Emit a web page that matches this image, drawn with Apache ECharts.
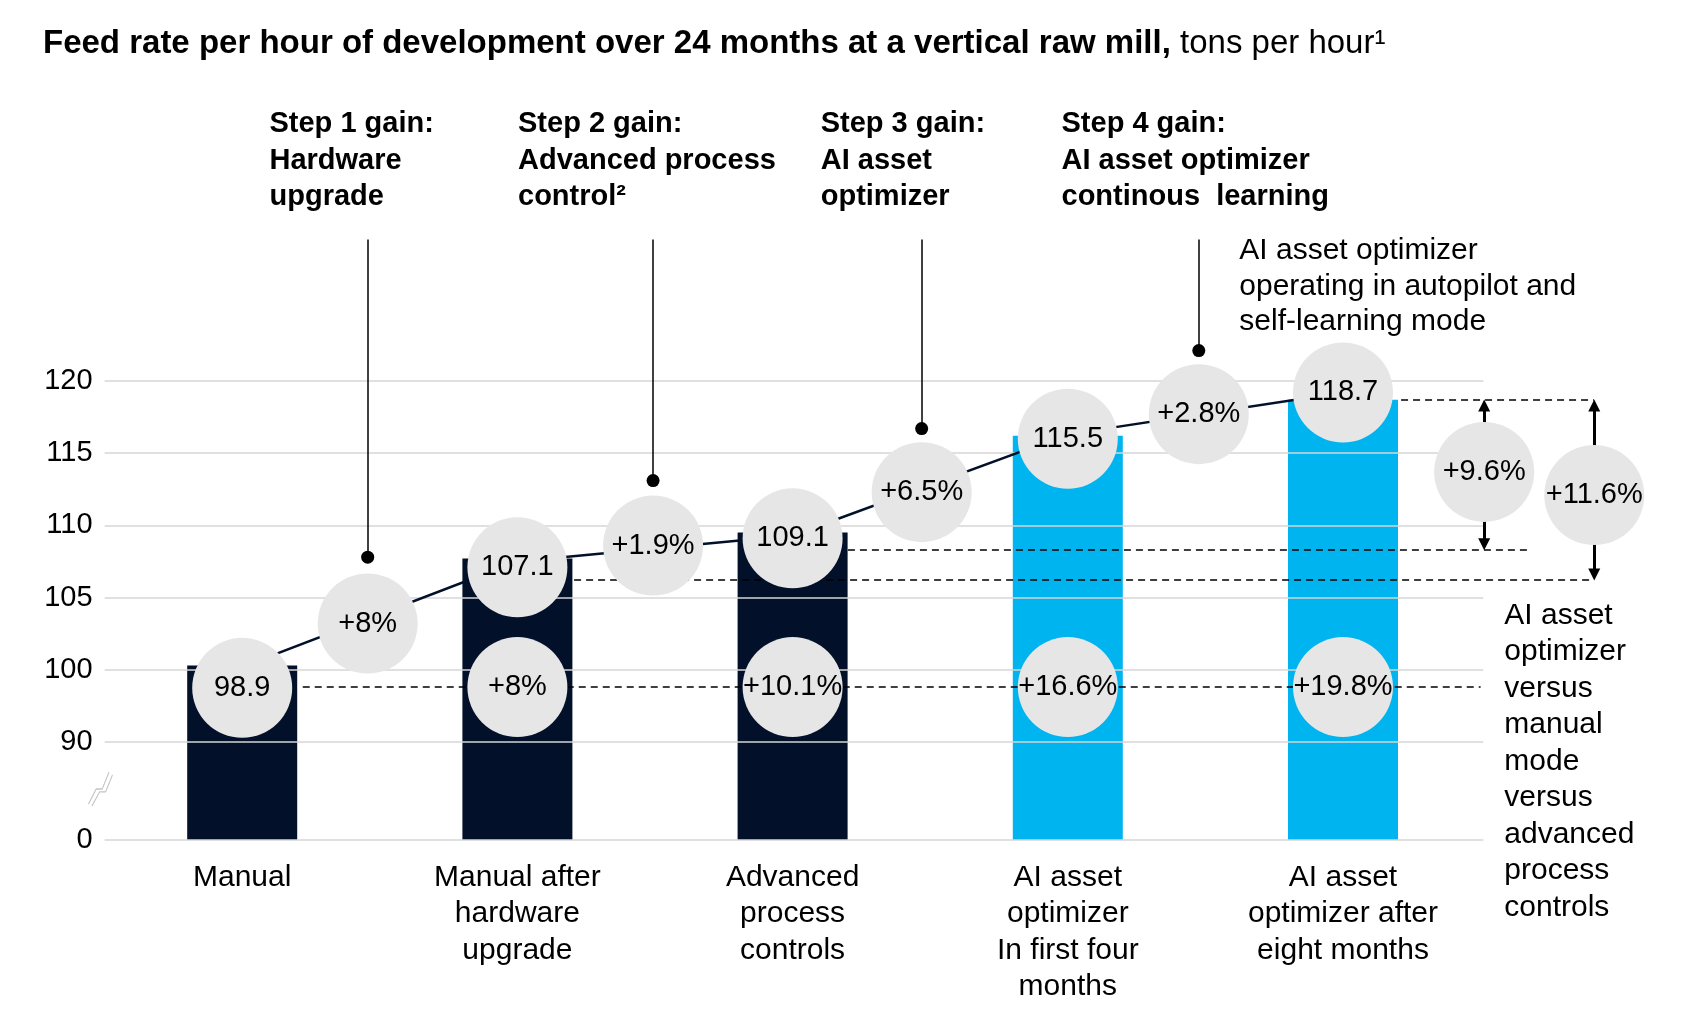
<!DOCTYPE html>
<html>
<head>
<meta charset="utf-8">
<script src="https://cdn.jsdelivr.net/npm/echarts@6/dist/echarts.min.js"></script>
<style>html,body{margin:0;padding:0;background:#fff}#c{width:1708px;height:1020px}</style>
</head>
<body>
<div id="c"></div>
<script>
// ================= DATA =================
const categories = [
  'Manual',
  'Manual after\nhardware\nupgrade',
  'Advanced\nprocess\ncontrols',
  'AI asset\noptimizer\nIn first four\nmonths',
  'AI asset\noptimizer after\neight months'
];
// printed feed rates (tons per hour)
const feedRateLabels = ['98.9', '107.1', '109.1', '115.5', '118.7'];
// bar heights as drawn in the picture (tons per hour, broken axis)
const barHeights = [100.3, 107.7, 109.5, 116.2, 118.7];
// connecting line levels at each bar
const lineLevels = [100.2, 107.5, 109.3, 116.3, 119.2];
// level of the feed-rate bubbles
const feedRateBubbleLevels = [97.5, 107.1, 109.1, 116.0, 119.2];

// step gains
const stepTitles = [
  'Step 1 gain:\nHardware\nupgrade',
  'Step 2 gain:\nAdvanced process\ncontrol\u00b2',
  'Step 3 gain:\nAI asset\noptimizer',
  'Step 4 gain:\nAI asset optimizer\ncontinous  learning'
];
const stepGainLabels = ['+8%', '+1.9%', '+6.5%', '+2.8%'];
const stepGainX = [0.456, 1.493, 2.469, 3.476];
const stepGainLevels = [103.2, 108.6, 112.3, 117.7];
const stepDotLevels = [107.8, 113.1, 116.7, 122.1];

// cumulative gain versus manual (inside bars 2..5)
const cumulativeGainLabels = ['+8%', '+10.1%', '+16.6%', '+19.8%'];
const cumulativeGainX = [1, 2, 3, 4];
const cumulativeLevel = 97.6;

// side gains
const sideGainLabels = ['+9.6%', '+11.6%'];
const sideGainX = [4.513, 4.913];
const sideGainLevels = [113.7, 112.1];

// dashed reference levels
const referenceLevels = [97.6, 106.2, 108.3, 118.7];

// y-axis tick labels
const yTickValues = [0, 90, 100, 105, 110, 115, 120];

// notes
const noteTop = 'AI asset optimizer\noperating in autopilot and\nself-learning mode';
const noteRight = 'AI asset\noptimizer\nversus\nmanual\nmode\nversus\nadvanced\nprocess\ncontrols';

// ================= LAYOUT / STYLE =================
const PX_PER_UNIT = 14.443;
const BREAK_D = 98 / PX_PER_UNIT;      // display height of 0..90
function disp(v) {                      // broken-axis transform
  if (v <= 90) return v * BREAK_D / 90;
  if (v <= 100) return BREAK_D + (v - 90) / 2;
  return BREAK_D + 5 + (v - 100);
}
const NAVY = '#021029', CYAN = '#00b4ef', BUBBLE = '#e6e6e6', INK = '#000000', GRIDC = '#d6d6d6';
const FONT = '"Liberation Sans", Arial, Helvetica, sans-serif';
const BAR_SLOT = 275.2, X0 = 242.2;
const X_MIN = -0.5, X_MAX = 5.3;
const gridLeft = X0 + X_MIN * BAR_SLOT;
const gridRight = 1708 - (X0 + X_MAX * BAR_SLOT);
const GRID_X_END = 4.51;
const STEP_LINE_TOP = 129.8;
const STEP_TITLE_X = [0.101, 1.004, 2.104, 2.979];
const STEP_TITLE_TOP = 139.0;
const NOTE_TOP_POS = [3.625, 130.2];
const NOTE_RIGHT_POS = [4.588, 105.0];
// dashed segments (x from, x to) for each reference level
const REF_SPANS = [[0.22, 4.50], [1.206, 4.912], [2.201, 4.672], [4.211, 4.912]];
const BREAK_POS = [-0.515, 46.8];

function bubbleSeries(name, xs, levels, labels) {
  return {
    type: 'scatter', name, z: 10, silent: true, animation: false, clip: false,
    symbol: 'circle', symbolSize: 100,
    itemStyle: { color: BUBBLE, opacity: 1 },
    label: { show: true, position: 'inside', formatter: p => labels[p.dataIndex],
             color: INK, fontSize: 29, fontFamily: FONT },
    data: xs.map((x, i) => [x, disp(Array.isArray(levels) ? levels[i] : levels)])
  };
}
function textSeries(name, points, texts, style) {
  return {
    type: 'scatter', name, z: 20, silent: true, animation: false, clip: false,
    symbolSize: 1, itemStyle: { color: 'rgba(0,0,0,0)', opacity: 1 },
    label: Object.assign({ show: true, position: [0, 0], align: 'left', verticalAlign: 'top',
             formatter: p => texts[p.dataIndex], color: INK, opacity: 1, fontFamily: FONT }, style),
    data: points
  };
}

const option = {
  animation: false,
  backgroundColor: '#fff',
  title: {
    left: 38, top: 22,
    text: '{b|Feed rate per hour of development over 24 months at a vertical raw mill,}{r| tons per hour\u00b9}',
    textStyle: { fontWeight: 'normal', rich: {
      b: { fontWeight: 'bold', fontSize: 33, fontFamily: FONT, color: '#000' },
      r: { fontWeight: 'normal', fontSize: 33, fontFamily: FONT, color: '#000' }
    } }
  },
  grid: { left: gridLeft, right: gridRight, top: 0, bottom: 180, containLabel: false, outerBoundsMode: 'none' },
  xAxis: {
    type: 'value', min: X_MIN, max: X_MAX,
    axisLine: { show: false }, axisTick: { show: false }, splitLine: { show: false },
    axisLabel: { customValues: categories.map((c, i) => i), formatter: v => categories[Math.round(v)] || '',
                 fontSize: 30, lineHeight: 36.5, color: INK, fontFamily: FONT, margin: 19, align: 'center' }
  },
  yAxis: {
    type: 'value', min: 0, max: 840 / PX_PER_UNIT,
    axisLine: { show: false }, axisTick: { show: false }, splitLine: { show: false },
    axisLabel: {
      customValues: yTickValues.map(disp),
      formatter: v => { const k = yTickValues.findIndex(t => Math.abs(disp(t) - v) < 0.01); return k < 0 ? '' : String(yTickValues[k]); },
      fontSize: 29, color: INK, fontFamily: FONT, margin: 12
    }
  },
  series: [
    // grid lines
    { type: 'line', name: 'grid', z: 1, data: [], silent: true,
      markLine: { silent: true, animation: false, symbol: ['none', 'none'], label: { show: false },
        lineStyle: { color: GRIDC, width: 1.5, type: 'solid' },
        data: yTickValues.map(t => [{ coord: [X_MIN, disp(t)] }, { coord: [GRID_X_END, disp(t)] }]) } },
    // bars
    { type: 'bar', name: 'feed rate', z: 2, barWidth: 110, silent: true,
      data: barHeights.map((v, i) => ({ value: [i, disp(v)], itemStyle: { color: i < 3 ? NAVY : CYAN } })) },
    // dashed reference lines
    { type: 'line', name: 'refs', z: 4, data: [], silent: true,
      markLine: { silent: true, animation: false, symbol: ['none', 'none'], label: { show: false },
        lineStyle: { color: '#000', width: 1.5, type: [7, 5] },
        data: referenceLevels.map((lv, k) => [{ coord: [REF_SPANS[k][0], disp(lv)] }, { coord: [REF_SPANS[k][1], disp(lv)] }]) } },
    // arrows
    { type: 'line', name: 'arrows', z: 8, data: [], silent: true,
      markLine: { silent: true, animation: false, symbol: ['triangle', 'triangle'], symbolSize: 12, label: { show: false },
        lineStyle: { color: '#000', width: 3, type: 'solid' },
        data: [
          [{ coord: [sideGainX[0], disp(referenceLevels[3]) - 0.4] }, { coord: [sideGainX[0], disp(referenceLevels[2]) + 0.4] }],
          [{ coord: [sideGainX[1], disp(referenceLevels[3]) - 0.4] }, { coord: [sideGainX[1], disp(referenceLevels[1]) + 0.4] }]
        ] } },
    // connecting line
    { type: 'line', name: 'trend', z: 6, silent: true, symbol: 'none',
      lineStyle: { color: NAVY, width: 2.5 },
      data: lineLevels.map((v, i) => [i, disp(v)]) },
    // step pointer dots + lines
    { type: 'scatter', name: 'step dots', z: 7, silent: true, symbol: 'circle', symbolSize: 13,
      itemStyle: { color: '#000', opacity: 1 },
      data: stepGainX.map((x, k) => [x, disp(stepDotLevels[k])]),
      markLine: { silent: true, animation: false, symbol: ['none', 'none'], label: { show: false },
        lineStyle: { color: '#000', width: 1.5, type: 'solid' },
        data: stepGainX.map((x, k) => [{ coord: [x, disp(STEP_LINE_TOP)] }, { coord: [x, disp(stepDotLevels[k])] }]) } },
    // bubbles
    bubbleSeries('feed rate bubbles', [0, 1, 2, 3, 4], feedRateBubbleLevels, feedRateLabels),
    bubbleSeries('step gains', stepGainX, stepGainLevels, stepGainLabels),
    bubbleSeries('cumulative gains', cumulativeGainX, cumulativeLevel, cumulativeGainLabels),
    bubbleSeries('side gains', sideGainX, sideGainLevels, sideGainLabels),
    // axis break mark
    { type: 'scatter', name: 'break', z: 3, silent: true, clip: false,
      symbol: 'path://M0 34 L9 18 L16 18 L24 0 M4 36 L13 21 L20 21 L28 3', symbolSize: [24, 34],
      itemStyle: { color: 'rgba(0,0,0,0)', borderColor: '#c4c4c4', borderWidth: 1.2, opacity: 1 },
      data: [[BREAK_POS[0], disp(BREAK_POS[1])]] },
    // texts
    textSeries('step titles', STEP_TITLE_X.map(x => [x, disp(STEP_TITLE_TOP)]), stepTitles,
      { fontWeight: 'bold', fontSize: 29, lineHeight: 36.5 }),
    textSeries('note top', [[NOTE_TOP_POS[0], disp(NOTE_TOP_POS[1])]], [noteTop],
      { fontSize: 30, lineHeight: 35.5 }),
    textSeries('note right', [[NOTE_RIGHT_POS[0], disp(NOTE_RIGHT_POS[1])]], [noteRight],
      { fontSize: 30, lineHeight: 36.5 })
  ]
};
const chart = echarts.init(document.getElementById('c'), null, { renderer: 'canvas' });
chart.setOption(option);
</script>
</body>
</html>
